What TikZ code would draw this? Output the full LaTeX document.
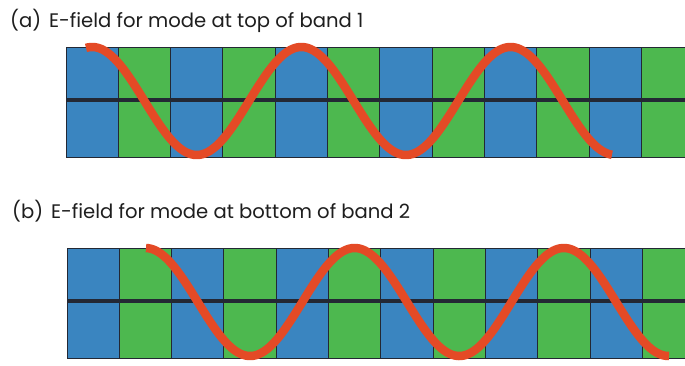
\documentclass[tikz,border=0pt]{standalone}
\usepackage{fontspec}
\setmainfont{Poppins}
\definecolor{cellblue}{RGB}{58,133,192}
\definecolor{cellgreen}{RGB}{77,184,79}
\definecolor{wavered}{RGB}{228,74,38}
\definecolor{darkline}{RGB}{35,40,52}
\definecolor{textcol}{RGB}{30,30,30}
\tikzset{
  sepline/.style={darkline, line width=0.9pt},
  midline/.style={darkline, line width=3.6pt},
  wave/.style={wavered, line width=8.5pt, line cap=butt},
  caption/.style={anchor=base west, inner sep=0pt, font=\fontsize{19.6}{22}\selectfont, text=textcol}
}
\newcommand{\drawstrip}[3]{% left x, top y, bottom y
  \begin{scope}
    \clip (#1,#2) rectangle (685,#3);
    \foreach \i in {0,...,11}{
      \pgfmathsetmacro{\xa}{#1+\i*52.3}
      \pgfmathsetmacro{\xb}{#1+(\i+1)*52.3}
      \ifodd\i
        \fill[cellgreen] (\xa,#2) rectangle (\xb,#3);
      \else
        \fill[cellblue] (\xa,#2) rectangle (\xb,#3);
      \fi
      \draw[sepline] (\xa,#2) -- (\xa,#3);
    }
  \end{scope}
  \draw[sepline] (#1,#2) -- (685,#2);
  \draw[sepline] (#1,#3) -- (685,#3);
}
\begin{document}
\begin{tikzpicture}[x=1pt,y=-1pt]
\useasboundingbox (0,0) rectangle (685,365);
\fill[white] (0,0) rectangle (685,365);

% (a)
\node[caption] (capa) at (10,27) {(a)\hspace{0.4em}E-field for mode at top of band 1};
\drawstrip{66}{47}{157}
\draw[midline] (66,100) -- (685,100);
\draw[wave] plot[domain=86:612, samples=240] (\x, {101-54*cos((\x-301.35)*1.72084)});

% (b)
\node[caption] (capb) at (12,218) {(b)\hspace{0.4em}E-field for mode at bottom of band 2};
\drawstrip{67}{248}{358}
\draw[midline] (67,301) -- (685,301);
\draw[wave] plot[domain=146:669, samples=240] (\x, {302-54*cos((\x-145.45)*1.72084)});
\end{tikzpicture}
\end{document}
